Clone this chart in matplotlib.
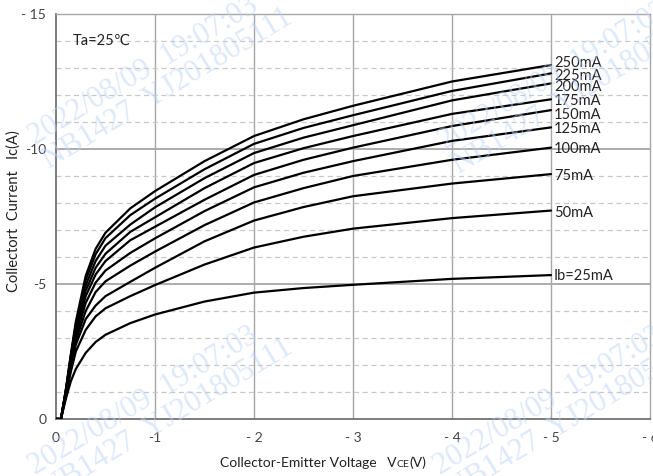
import matplotlib
matplotlib.use("Agg")
import matplotlib.pyplot as plt
from matplotlib.transforms import offset_copy
from matplotlib.offsetbox import TextArea, HPacker, AnchoredOffsetbox

# ---- data ----
vce = [0, -0.05, -0.1, -0.15, -0.2, -0.3, -0.4, -0.5, -0.75, -1, -1.5, -2, -2.5, -3, -4, -5]
ib_labels = ["250mA", "225mA", "200mA", "175mA", "150mA", "125mA", "100mA", "75mA", "50mA", "Ib=25mA"]
ic_250 = [0, 0, -1.1, -2.4, -3.6, -5.3, -6.3, -6.9, -7.8, -8.44, -9.55, -10.48, -11.1, -11.6, -12.5, -13.11]
ic_225 = [0, 0, -1.1, -2.35, -3.5, -5.15, -6.1, -6.7, -7.55, -8.16, -9.25, -10.19, -10.78, -11.25, -12.15, -12.8]
ic_200 = [0, 0, -1.05, -2.3, -3.4, -4.95, -5.85, -6.42, -7.2, -7.84, -8.92, -9.85, -10.42, -10.88, -11.8, -12.43]
ic_175 = [0, 0, -1.05, -2.25, -3.3, -4.75, -5.6, -6.12, -6.93, -7.47, -8.55, -9.48, -10.03, -10.48, -11.3, -11.84]
ic_150 = [0, 0, -1.0, -2.2, -3.2, -4.55, -5.35, -5.85, -6.62, -7.12, -8.12, -9.04, -9.6, -10.05, -10.85, -11.44]
ic_125 = [0, 0, -1.0, -2.1, -3.05, -4.3, -5.05, -5.5, -6.15, -6.69, -7.7, -8.58, -9.12, -9.55, -10.3, -10.8]
ic_100 = [0, 0, -0.95, -2.0, -2.9, -4.0, -4.7, -5.1, -5.68, -6.2, -7.18, -8.02, -8.55, -9.0, -9.6, -10.05]
ic_75 = [0, 0, -0.9, -1.9, -2.75, -3.7, -4.2, -4.55, -5.08, -5.6, -6.58, -7.35, -7.85, -8.25, -8.72, -9.07]
ic_50 = [0, 0, -0.85, -1.75, -2.5, -3.3, -3.8, -4.1, -4.55, -4.96, -5.72, -6.35, -6.75, -7.05, -7.44, -7.72]
ic_25 = [0, 0, -0.75, -1.4, -1.85, -2.45, -2.85, -3.12, -3.55, -3.87, -4.35, -4.68, -4.85, -4.97, -5.19, -5.33]
series = [ic_250, ic_225, ic_200, ic_175, ic_150, ic_125, ic_100, ic_75, ic_50, ic_25]

x_ticks = [0, -1, -2, -3, -4, -5, -6]
x_tick_labels = ["0", "-1", "- 2", "- 3", "- 4", "- 5", "- 6"]
y_ticks = [0, -5, -10, -15]
y_tick_labels = ["0", "-5", "-10", "- 15"]
watermark_lines = ["2022/08/09  19:07:03", "NB1427  YJ201805111"]

# label nudges in points (styling only)
label_dy_pt = [1.5, -2.0, -2.8, -1.5, -3.8, -1.5, -0.8, -1.5, -1.8, -0.8]

FONT = ["Lato", "DejaVu Sans"]
plt.rcParams["font.family"] = FONT
TXT = "#222222"

W, H = 653, 476
fig = plt.figure(figsize=(W / 100, H / 100), dpi=100)
ax = fig.add_axes([56 / W, 1 - 419 / H, (650 - 56) / W, (419 - 14) / H])

# grid
for xv in x_ticks[1:-1]:
    ax.axvline(xv, color="#a6a6a6", lw=1.0, zorder=1)
for yv in range(-1, -15, -1):
    if yv % 5 == 0:
        ax.axhline(yv, color="#a6a6a6", lw=1.3, zorder=1)
    else:
        ax.axhline(yv, color="#c8c8c8", lw=0.9, ls=(0, (4, 3)), zorder=1)

for s in series:
    ax.plot(vce, s, color="black", lw=1.6, zorder=3, solid_capstyle="round", solid_joinstyle="round")

for lab, s, dy in zip(ib_labels, series, label_dy_pt):
    tr = offset_copy(ax.transData, fig=fig, x=0, y=dy, units="points")
    ax.text(vce[-1] - 0.03, s[-1], lab, fontsize=10.5, va="center", ha="left",
            color=TXT, zorder=4, transform=tr)

ax.set_xlim(0, -6)
ax.set_ylim(0, -15)
ax.set_xticks(x_ticks)
ax.set_xticklabels(x_tick_labels)
ax.set_yticks(y_ticks)
ax.set_yticklabels(y_tick_labels)
ax.tick_params(length=0, labelsize=10, colors="#444444")
ax.tick_params(axis="x", pad=9)
ax.tick_params(axis="y", pad=7)
for side in ["top", "right"]:
    ax.spines[side].set_color("#a6a6a6")
    ax.spines[side].set_linewidth(1.0)
for side in ["left", "bottom"]:
    ax.spines[side].set_color("#666666")
    ax.spines[side].set_linewidth(1.2)

ax.text(-0.17, -14.0, "Ta=25℃", fontsize=10.5, va="center", ha="left", color=TXT)

# axis titles
fig.text(14 / W, 1 - 211 / H, "Collectort  Current   Ic(A)", rotation=90,
         ha="center", va="center", fontsize=10.5, color=TXT)
pk = HPacker(children=[TextArea("Collector-Emitter Voltage   V", textprops=dict(fontsize=10, color=TXT)),
                       TextArea("CE", textprops=dict(fontsize=7.5, color=TXT)),
                       TextArea("(V)", textprops=dict(fontsize=10, color=TXT))],
             align="baseline", pad=0, sep=0)
ab = AnchoredOffsetbox(loc="center", child=pk, frameon=False,
                       bbox_to_anchor=(323 / W, 1 - 463 / H), bbox_transform=fig.transFigure, pad=0, borderpad=0)
fig.add_artist(ab)

# watermark
for (px, py) in [(35, 145), (445, 150), (35, 475), (440, 475)]:
    for i, line in enumerate(watermark_lines):
        fig.text((px + i * 14) / W, 1 - (py + i * 24) / H, line, rotation=31, rotation_mode="anchor",
                 ha="left", va="baseline", fontsize=22, family=["Liberation Serif", "DejaVu Serif"],
                 color="#bcd4f5", alpha=0.5, zorder=10)

fig.savefig("out.png", dpi=100)
